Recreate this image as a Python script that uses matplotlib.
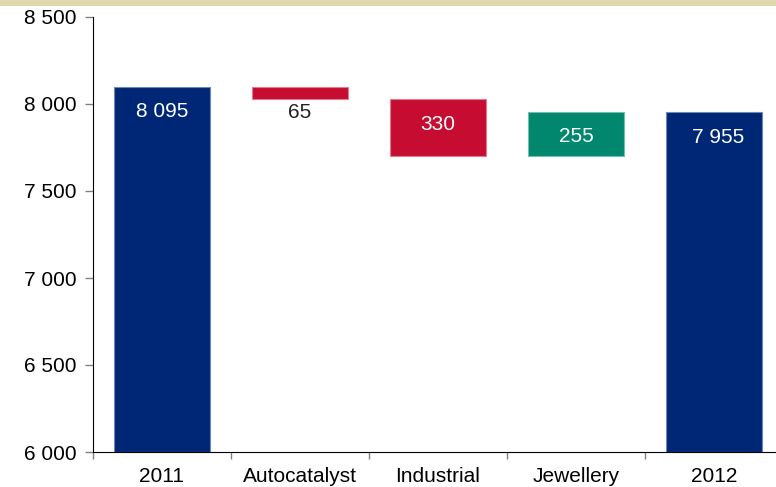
import matplotlib
matplotlib.use("Agg")
import matplotlib.pyplot as plt
from matplotlib.patches import Rectangle

plt.rcParams['font.family'] = ['Liberation Sans', 'DejaVu Sans']

categories = ["2011", "Autocatalyst", "Industrial", "Jewellery", "2012"]
start_total = 8095
changes = [-65, -330, 255]
end_total = 7955
label_texts = ["8 095", "65", "330", "255", "7 955"]

navy = "#002776"
red = "#C60C30"
green = "#00876E"
fs = 15

fig = plt.figure(figsize=(7.76, 4.87), dpi=100)
# beige strip along the top edge
fig.patches.append(Rectangle((0, 1 - 6 / 487), 1, 6 / 487, transform=fig.transFigure,
                             facecolor="#E2D8AE", edgecolor="none", zorder=0))

ax = fig.add_axes([93 / 776, 1 - 452 / 487, 690 / 776, (452 - 17) / 487])

x = list(range(len(categories)))
width = 0.7

# running waterfall bottoms/heights
bottoms = [6000]
heights = [start_total - 6000]
colors = [navy]
level = start_total
for c in changes:
    new_level = level + c
    bottoms.append(min(level, new_level))
    heights.append(abs(c))
    colors.append(red if c < 0 else green)
    level = new_level
bottoms.append(6000)
heights.append(end_total - 6000)
colors.append(navy)

edge = {navy: "#6F86B8", red: "#E07C90", green: "#6FBFAE"}
for xi, b, h, col in zip(x, bottoms, heights, colors):
    ax.bar(xi, h, bottom=b, width=width, color=col, edgecolor=edge[col], linewidth=0.8, zorder=2)

# value labels
ax.annotate(label_texts[0], (x[0], start_total), xytext=(0, -17), textcoords="offset points",
            ha="center", va="center", color="white", fontsize=fs)
ax.annotate(label_texts[1], (x[1], bottoms[1]), xytext=(0, -10), textcoords="offset points",
            ha="center", va="center", color="#222222", fontsize=fs)
for i, dy in ((2, 2), (3, -1.5)):
    ax.annotate(label_texts[i], (x[i], bottoms[i] + heights[i] / 2), xytext=(0, dy),
                textcoords="offset points", ha="center", va="center", color="white", fontsize=fs)
ax.annotate(label_texts[4], (x[4], end_total), xytext=(3, -18.5), textcoords="offset points",
            ha="center", va="center", color="white", fontsize=fs)

ax.set_ylim(6000, 8500)
ax.set_xlim(-0.5, len(categories) - 0.5)
yticks = [6000, 6500, 7000, 7500, 8000, 8500]
ax.set_yticks(yticks)
ax.set_yticklabels([f"{v:,}".replace(",", " ") for v in yticks], fontsize=fs)

ax.set_xticks([i - 0.5 for i in range(len(categories) + 1)])
ax.set_xticklabels([])
ax.set_xticks(x, minor=True)
ax.set_xticklabels(categories, minor=True, fontsize=fs)
ax.tick_params(axis="x", which="minor", length=0, pad=11)
ax.tick_params(axis="x", which="major", length=5, color="#808080", width=1)
ax.tick_params(axis="y", length=6, color="#808080", width=1, pad=6)

for s in ("top", "right"):
    ax.spines[s].set_visible(False)
ax.spines["left"].set_color("black")
ax.spines["bottom"].set_color("black")

fig.savefig("out.png", dpi=100)
